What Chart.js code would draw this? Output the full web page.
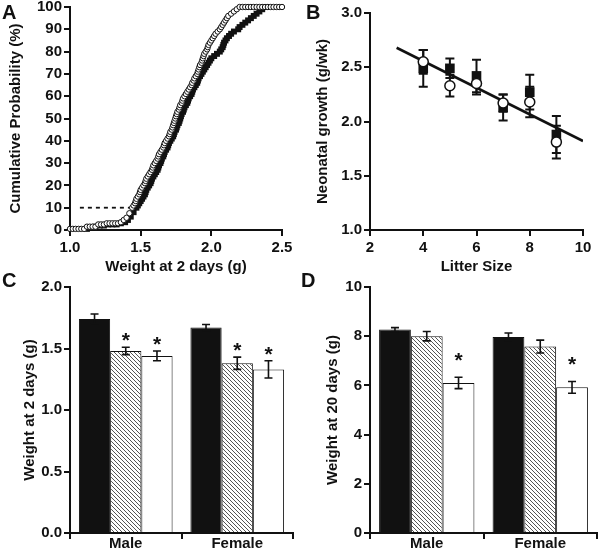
<!DOCTYPE html>
<html lang="en">
<head>
<meta charset="UTF-8">
<title>Litter size and pup growth</title>
<script src="https://cdn.jsdelivr.net/npm/chart.js"></script>
<style>
  body { margin: 0; background: #fff; font-family: 'Liberation Sans', Arial, sans-serif; }
  .fig { position: relative; width: 600px; height: 557px; overflow: hidden; }
  .panel { position: absolute; }
  .letter { position: absolute; font-size: 20px; font-weight: bold; line-height: 20px; color: #111; }
</style>
</head>
<body>
<div class="fig">
  <div class="panel" style="left:0;top:0;width:300px;height:278px"><canvas id="chartA"></canvas></div>
  <div class="panel" style="left:300px;top:0;width:300px;height:278px"><canvas id="chartB"></canvas></div>
  <div class="panel" style="left:0;top:278px;width:300px;height:279px"><canvas id="chartC"></canvas></div>
  <div class="panel" style="left:300px;top:278px;width:300px;height:279px"><canvas id="chartD"></canvas></div>
  <div class="letter" style="left:2px;top:2px">A</div>
  <div class="letter" style="left:306px;top:2px">B</div>
  <div class="letter" style="left:2px;top:270px">C</div>
  <div class="letter" style="left:301px;top:270px">D</div>
</div>

<script>
// ---- Panel A: cumulative probability of weight at 2 days ----
const cdfOpenWeight = [
  1.00, 1.02, 1.04, 1.06, 1.08, 1.10,
  1.12, 1.14, 1.16, 1.18,
  1.20, 1.22, 1.24, 1.26, 1.28, 1.30, 1.32, 1.34, 1.36,
  1.38, 1.40, 1.42,
  1.44, 1.45, 1.46, 1.465, 1.47, 1.48, 1.49, 1.495, 1.50, 1.51,
  1.52, 1.53, 1.535, 1.54, 1.55, 1.56, 1.57, 1.58, 1.585, 1.59,
  1.60, 1.61, 1.62, 1.625, 1.63, 1.64, 1.65, 1.66, 1.665, 1.67,
  1.68, 1.69, 1.70, 1.705, 1.71, 1.72, 1.725, 1.73, 1.735, 1.74,
  1.745, 1.75, 1.755, 1.76, 1.77, 1.775, 1.78, 1.79, 1.795, 1.80,
  1.81, 1.82, 1.83, 1.84, 1.85, 1.86, 1.865, 1.875, 1.88, 1.89,
  1.90, 1.905, 1.91, 1.915, 1.92, 1.93, 1.935, 1.94, 1.945, 1.95,
  1.96, 1.97, 1.975, 1.98, 1.99, 2.00, 2.01, 2.02, 2.03, 2.045,
  2.06, 2.07, 2.08, 2.09, 2.10, 2.11, 2.12, 2.14, 2.16, 2.18,
  2.20, 2.22, 2.24, 2.26, 2.28, 2.30, 2.32, 2.34, 2.36, 2.38, 2.40, 2.42, 2.44, 2.46, 2.48, 2.50
];
const cdfOpenPct = [
  0.5, 0.5, 0.5, 0.5, 0.5, 0.5,
  1.5, 1.5, 1.5, 1.5,
  2.5, 2.5, 2.5, 3, 3, 3, 3, 3, 3.5,
  4.5, 5.5, 7.5,
  10, 11, 12, 13, 14, 15, 16, 17, 18, 19,
  20, 21, 22, 23, 24, 25, 26, 27, 28, 29,
  30, 31, 32, 33, 34, 35, 36, 37, 38, 39,
  40, 41, 42, 43, 44, 45, 46, 47, 48, 49,
  50, 51, 52, 53, 54, 55, 56, 57, 58, 59,
  60, 61, 62, 63, 64, 65, 66, 67, 68, 69,
  70, 71, 72, 73, 74, 75, 76, 77, 78, 79,
  80, 81, 82, 83, 84, 85, 86, 87, 88, 89,
  90, 91, 92, 93, 94, 95, 96, 97, 98, 99,
  100, 100, 100, 100, 100, 100, 100, 100, 100, 100, 100, 100, 100, 100, 100, 100
];
const cdfFilledWeight = [
  1.12, 1.15, 1.18, 1.21, 1.24, 1.27, 1.30, 1.33, 1.36, 1.39, 1.41, 1.43, 1.45,
  1.47, 1.48, 1.49, 1.50, 1.51, 1.52, 1.53, 1.535, 1.54, 1.55,
  1.56, 1.57, 1.575, 1.58, 1.59, 1.60, 1.61, 1.62, 1.625, 1.63,
  1.64, 1.645, 1.65, 1.66, 1.665, 1.67, 1.68, 1.69, 1.695, 1.70,
  1.71, 1.72, 1.73, 1.735, 1.74, 1.75, 1.755, 1.76, 1.77, 1.775,
  1.78, 1.785, 1.79, 1.80, 1.805, 1.81, 1.82, 1.83, 1.835, 1.84,
  1.85, 1.86, 1.865, 1.87, 1.88, 1.89, 1.90, 1.905, 1.91, 1.92,
  1.93, 1.94, 1.95, 1.96, 1.97, 1.98, 1.99, 2.00, 2.02, 2.04,
  2.06, 2.07, 2.08, 2.085, 2.09, 2.10, 2.11, 2.125, 2.14, 2.16,
  2.19, 2.20, 2.22, 2.24, 2.26, 2.28, 2.30, 2.32, 2.34, 2.36,
  2.38
];
const cdfFilledPct = [
  0.5, 1, 1.5, 2, 2, 2.5, 2.5, 2.5, 3, 3.5, 4.5, 6, 8,
  10, 11, 12, 13, 14, 15, 16, 17, 18, 19,
  20, 21, 22, 23, 24, 25, 26, 27, 28, 29,
  30, 31, 32, 33, 34, 35, 36, 37, 38, 39,
  40, 41, 42, 43, 44, 45, 46, 47, 48, 49,
  50, 51, 52, 53, 54, 55, 56, 57, 58, 59,
  60, 61, 62, 63, 64, 65, 66, 67, 68, 69,
  70, 71, 72, 73, 74, 75, 76, 77, 78, 79,
  80, 81, 82, 83, 84, 85, 86, 87, 88, 89,
  90, 91, 92, 93, 94, 95, 96, 97, 98, 99,
  100
];
const cutoffWeight = [1.07, 1.43];
const cutoffPct = [10, 10];

// ---- Panel B: neonatal growth vs litter size ----
const litterSize = [4, 5, 6, 7, 8, 9];
const growthFilled = [2.49, 2.49, 2.42, 2.13, 2.27, 1.88];
const growthFilledErr = [0.17, 0.09, 0.15, 0.12, 0.16, 0.17];
const growthOpen = [2.55, 2.33, 2.35, 2.17, 2.18, 1.81];
const growthOpenErr = [0.11, 0.10, 0.10, 0.08, 0.14, 0.15];
const fitLitter = [3, 10];
const fitGrowth = [2.68, 1.82];

// ---- Panels C and D: weights by sex ----
const sexes = ['Male', 'Female'];
const day2Black = [1.74, 1.67];
const day2BlackErr = [0.04, 0.025];
const day2Hatch = [1.48, 1.38];
const day2HatchErr = [0.03, 0.05];
const day2White = [1.44, 1.33];
const day2WhiteErr = [0.04, 0.07];
const day2HatchSig = [true, true];
const day2WhiteSig = [true, true];

const day20Black = [8.27, 7.97];
const day20BlackErr = [0.08, 0.16];
const day20Hatch = [8.00, 7.58];
const day20HatchErr = [0.19, 0.26];
const day20White = [6.10, 5.92];
const day20WhiteErr = [0.23, 0.24];
const day20WhiteSig = [true, true];

// ---- shared styling ----
const ink = '#111';
const fontFamily = "'Liberation Sans', Arial, sans-serif";
const tickFont = { family: fontFamily, size: 15, weight: 'bold' };
const titleFont = { family: fontFamily, size: 15, weight: 'bold' };

function fixWidth(w) {
  return s => { s.width = w; s.paddingTop = 0; s.paddingBottom = 0; };
}
function fixHeight(h) {
  return s => { s.height = h; s.paddingLeft = 0; s.paddingRight = 0; };
}

function axis(extra) {
  const base = {
    border: { display: true, color: ink, width: 2 },
    grid: { drawOnChartArea: false, drawTicks: true, tickLength: 6, color: ink, lineWidth: 2 },
    ticks: { color: ink, font: tickFont, padding: 2, autoSkip: false, maxRotation: 0 }
  };
  return Object.assign(base, extra, {
    ticks: Object.assign(base.ticks, extra.ticks || {}),
    grid: Object.assign(base.grid, extra.grid || {})
  });
}

function pairs(xs, ys) {
  return xs.map((x, i) => ({ x: x, y: ys[i] }));
}

// error bars (and significance stars) drawn through the y scale
function drawErrors(chart, opts) {
  const ctx = chart.ctx;
  const yScale = chart.scales.y;
  ctx.save();
  ctx.strokeStyle = ink;
  ctx.lineWidth = opts.lineWidth;
  chart.data.datasets.forEach((ds, di) => {
    if (!ds.errors) return;
    const meta = chart.getDatasetMeta(di);
    meta.data.forEach((el, i) => {
      const raw = ds.data[i];
      const v = typeof raw === 'object' ? raw.y : raw;
      const top = yScale.getPixelForValue(v + ds.errors[i]);
      const bot = yScale.getPixelForValue(v - ds.errors[i]);
      const c = opts.cap;
      ctx.beginPath();
      ctx.moveTo(el.x, top); ctx.lineTo(el.x, bot);
      ctx.moveTo(el.x - c, top); ctx.lineTo(el.x + c, top);
      ctx.moveTo(el.x - c, bot); ctx.lineTo(el.x + c, bot);
      ctx.stroke();
      if (ds.stars && ds.stars[i]) {
        ctx.fillStyle = ink;
        ctx.font = 'bold 21px ' + fontFamily;
        ctx.textAlign = 'center';
        ctx.textBaseline = 'alphabetic';
        ctx.fillText('*', el.x, top - opts.starLift + 12);
      }
    });
  });
  ctx.restore();
}

const errorBars = {
  id: 'errorBars',
  beforeDatasetsDraw(chart, args, opts) { if (opts.behind) drawErrors(chart, opts); },
  afterDatasetsDraw(chart, args, opts) { if (!opts.behind) drawErrors(chart, opts); }
};

function hatch() {
  const tile = document.createElement('canvas');
  tile.width = 4; tile.height = 4;
  const g = tile.getContext('2d');
  g.fillStyle = '#fff';
  g.fillRect(0, 0, 4, 4);
  g.strokeStyle = '#555';
  g.lineWidth = 1;
  g.beginPath();
  g.moveTo(-1, -1); g.lineTo(5, 5);
  g.moveTo(-1, 3); g.lineTo(1, 5);
  g.moveTo(3, -1); g.lineTo(5, 1);
  g.stroke();
  return document.createElement('canvas').getContext('2d').createPattern(tile, 'repeat');
}
const hatchFill = hatch();

const baseOptions = {
  responsive: true,
  maintainAspectRatio: false,
  animation: false,
  events: []
};

// ---- A ----
new Chart(document.getElementById('chartA'), {
  type: 'scatter',
  data: {
    datasets: [
      { data: pairs(cdfOpenWeight, cdfOpenPct), pointStyle: 'circle', pointRadius: 2.7,
        backgroundColor: '#fff', borderColor: ink, borderWidth: 1, clip: false },
      { data: pairs(cdfFilledWeight, cdfFilledPct), pointStyle: 'rect', pointRadius: 4.2,
        backgroundColor: ink, borderColor: ink, borderWidth: 0, clip: false },
      { data: pairs(cutoffWeight, cutoffPct), showLine: true, pointRadius: 0,
        borderColor: ink, borderWidth: 1.8, borderDash: [4, 4] }
    ]
  },
  options: Object.assign({}, baseOptions, {
    layout: { padding: { left: 0, right: 18, top: 7, bottom: 0 } },
    plugins: { legend: { display: false }, tooltip: { enabled: false } },
    scales: {
      x: axis({ min: 1.0, max: 2.5, afterFit: fixHeight(48),
        ticks: { stepSize: 0.5, padding: 3, callback: v => v.toFixed(1) },
        title: { display: true, text: 'Weight at 2 days (g)', color: ink, font: titleFont, padding: { top: 0, bottom: 2 } } }),
      y: axis({ min: 0, max: 100, afterFit: fixWidth(70),
        ticks: { stepSize: 10 },
        title: { display: true, text: 'Cumulative Probability (%)', color: ink, font: titleFont, padding: { top: 7, bottom: 0 } } })
    }
  })
});

// ---- B ----
new Chart(document.getElementById('chartB'), {
  type: 'scatter',
  data: {
    datasets: [
      { data: pairs(litterSize, growthOpen), errors: growthOpenErr, pointStyle: 'circle', pointRadius: 5,
        backgroundColor: '#fff', borderColor: ink, borderWidth: 1.5 },
      { data: pairs(litterSize, growthFilled), errors: growthFilledErr, pointStyle: 'rect', pointRadius: 6.8,
        backgroundColor: ink, borderColor: ink, borderWidth: 0 },
      { data: pairs(fitLitter, fitGrowth), showLine: true, pointRadius: 0,
        borderColor: ink, borderWidth: 2.6 }
    ]
  },
  plugins: [errorBars],
  options: Object.assign({}, baseOptions, {
    layout: { padding: { left: 0, right: 17, top: 13, bottom: 0 } },
    plugins: { legend: { display: false }, tooltip: { enabled: false },
      errorBars: { behind: true, lineWidth: 2, cap: 4.5, starLift: 0 } },
    scales: {
      x: axis({ min: 2, max: 10, afterFit: fixHeight(48),
        ticks: { stepSize: 2, padding: 3 },
        title: { display: true, text: 'Litter Size', color: ink, font: titleFont, padding: { top: 0, bottom: 2 } } }),
      y: axis({ min: 1, max: 3, afterFit: fixWidth(70),
        ticks: { stepSize: 0.5, callback: v => v.toFixed(1) },
        title: { display: true, text: 'Neonatal growth (g/wk)', color: ink, font: titleFont, padding: { top: 14, bottom: 0 } } })
    }
  })
});

// ---- C and D ----
function barChart(id, series, yOpts, titleText, titlePad, rightPad, starLift) {
  const fills = [ink, hatchFill, '#fff'];
  return new Chart(document.getElementById(id), {
    type: 'bar',
    data: {
      labels: sexes,
      datasets: series.map((s, i) => ({
        data: s.values, errors: s.errors, stars: s.stars,
        backgroundColor: fills[i], borderColor: ink, borderWidth: 1,
        categoryPercentage: 0.84, barPercentage: 1.0
      }))
    },
    plugins: [errorBars],
    options: Object.assign({}, baseOptions, {
      layout: { padding: { left: 0, right: rightPad, top: 9, bottom: 0 } },
      plugins: { legend: { display: false }, tooltip: { enabled: false },
        errorBars: { behind: false, lineWidth: 1.6, cap: 4, starLift: starLift } },
      scales: {
        x: axis({ afterFit: fixHeight(24), ticks: { padding: -4 } }),
        y: axis(Object.assign({ afterFit: fixWidth(70),
          title: { display: true, text: titleText, color: ink, font: titleFont, padding: { top: titlePad, bottom: 0 } } }, yOpts))
      }
    })
  });
}

barChart('chartC', [
  { values: day2Black, errors: day2BlackErr },
  { values: day2Hatch, errors: day2HatchErr, stars: day2HatchSig },
  { values: day2White, errors: day2WhiteErr, stars: day2WhiteSig }
], { min: 0, max: 2, ticks: { stepSize: 0.5, callback: v => v.toFixed(1) } },
   'Weight at 2 days (g)', 21, 7, 12);

barChart('chartD', [
  { values: day20Black, errors: day20BlackErr },
  { values: day20Hatch, errors: day20HatchErr },
  { values: day20White, errors: day20WhiteErr, stars: day20WhiteSig }
], { min: 0, max: 10, ticks: { stepSize: 2 } },
   'Weight at 20 days (g)', 24, 3, 22);
</script>
</body>
</html>
